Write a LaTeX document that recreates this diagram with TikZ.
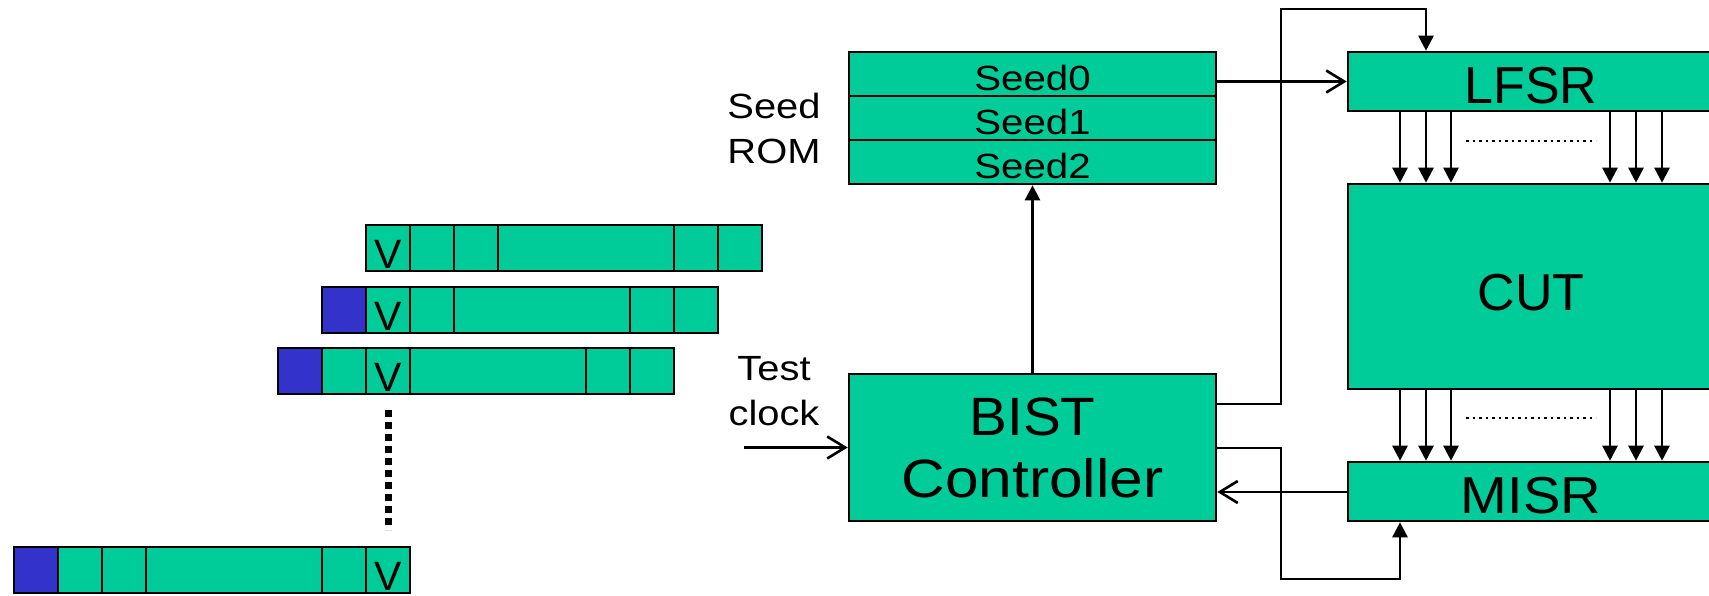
\documentclass[tikz,border=0pt]{standalone}
\usepackage{fontspec}
\setmainfont{Liberation Sans}
\usetikzlibrary{arrows.meta}
\definecolor{cgreen}{RGB}{0,204,153}
\definecolor{cblue}{RGB}{51,51,204}
\newcommand\wide[1]{\addfontfeature{FakeStretch=#1}}
\begin{document}
\begin{tikzpicture}[x=1pt,y=-1pt,
  ln/.style={line width=2.6pt},
  blk/.style={draw, fill=cgreen, line width=2.6pt, inner sep=0pt, outer sep=1.3pt},
  fa/.style={line width=2.6pt, -{Triangle[length=15pt,width=15pt]}},
  oa/.style={line width=2.6pt, -{Straight Barb[length=18pt,width=22pt]}},
  lbl/.style={align=center, font=\fontsize{35}{45}\selectfont\wide{1.14}, inner sep=0pt},
  seedrow/.style={blk, minimum width=367pt, minimum height=44pt, font=\fontsize{35}{35}\selectfont\wide{1.15}, text height=32pt, text depth=0pt},
  wideblk/.style={blk, minimum width=366pt, font=\fontsize{52}{52}\selectfont, text depth=0pt},
  vt/.style={anchor=base, inner sep=0pt, font=\fontsize{41}{41}\selectfont},
  dotl/.style={line width=2.6pt, dash pattern=on 2.6pt off 3.9pt},
]
\useasboundingbox (0,0) rectangle (1709,595);
\clip (0,0) rectangle (1709,595);

% Seed ROM
\node[seedrow] (rom0) at (1032.5,74) {Seed0};
\node[seedrow] (rom1) at (1032.5,118) {Seed1};
\node[seedrow] (rom2) at (1032.5,162) {Seed2};
\node[lbl] (romlbl) at (774,128) {Seed\\ROM};

% right column
\node[wideblk, minimum height=59pt, text height=43pt] (lfsr) at (1531,81.5) {LFSR};
\node[wideblk, minimum height=205pt, text height=48pt] (cut) at (1531,286.5) {CUT};
\node[wideblk, minimum height=59pt, text height=43pt] (misr) at (1531,491.5) {\wide{1.08}MISR};

% controller
\node[blk, minimum width=367pt, minimum height=147pt, align=center, font=\fontsize{54}{62}\selectfont] (bist) at (1032.5,447.5) {{\wide{1.05}BIST}\\{\wide{1.12}Controller}};
\node[lbl] (clklbl) at (774,391.5) {Test\\clock};
\coordinate (clk) at (744,447.5);

% connectors
\draw[oa] (rom0.east |- lfsr.west) -- (lfsr.west);
\draw[fa] (bist.east |- 0,404) -- (1281,404) -- (1281,9) -- (1426,9) -- (lfsr.north -| 1426,0);
\draw[fa] (bist.east |- 0,448) -- (1281,448) -- (1281,579) -- (1400,579) -- (misr.south -| 1400,0);
\draw[oa] (misr.west |- 0,492) -- (bist.east |- 0,492);
\draw[fa] (bist.north) -- (rom2.south);
\draw[oa] (clk) -- (bist.west);

\foreach \x in {1400,1426,1451,1610,1636,1662} {
  \draw[fa] (lfsr.south -| \x,0) -- (cut.north -| \x,0);
  \draw[fa] (cut.south -| \x,0) -- (misr.north -| \x,0);
}
\draw[dotl] (1466,141) -- (1596,141);
\draw[dotl] (1466,418) -- (1596,418);

% shifting rows
\fill[cgreen] (366,225) rectangle (762,271);
\draw[ln] (366,225) rectangle (762,271);
\foreach \x in {410,454,498,674,718} \draw[ln] (\x,225) -- (\x,271);
\node[vt] (v1) at (388,268.5) {V};

\fill[cgreen] (322,287) rectangle (718,333);
\fill[cblue] (322,287) rectangle (366,333);
\draw[ln] (322,287) rectangle (718,333);
\foreach \x in {366,410,454,630,674} \draw[ln] (\x,287) -- (\x,333);
\node[vt] (v2) at (388,330.5) {V};

\fill[cgreen] (278,348) rectangle (674,394);
\fill[cblue] (278,348) rectangle (322,394);
\draw[ln] (278,348) rectangle (674,394);
\foreach \x in {322,366,410,586,630} \draw[ln] (\x,348) -- (\x,394);
\node[vt] (v3) at (388,391.5) {V};

\draw[line width=7pt, dash pattern=on 7pt off 5pt] (388,410) -- (388,530);

\fill[cgreen] (14,547) rectangle (410,593);
\fill[cblue] (14,547) rectangle (58,593);
\draw[ln] (14,547) rectangle (410,593);
\foreach \x in {58,102,146,322,366} \draw[ln] (\x,547) -- (\x,593);
\node[vt] (v4) at (388,590.5) {V};
\end{tikzpicture}
\end{document}
